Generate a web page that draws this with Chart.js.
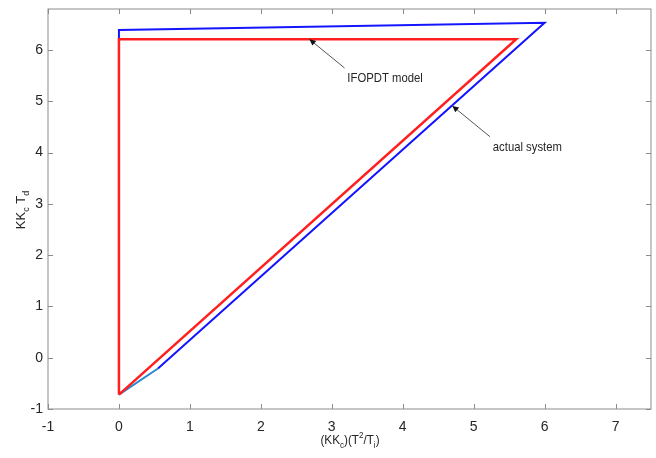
<!DOCTYPE html>
<html>
<head>
<meta charset="utf-8">
<script src="https://cdn.jsdelivr.net/npm/chart.js@4.4.0/dist/chart.umd.min.js"></script>
<style>
  body { margin: 0; background: #fff; }
  #wrap { width: 656px; height: 458px; position: relative; }
</style>
</head>
<body>
<div id="wrap"><canvas id="myChart"></canvas></div>
<script>
// polygon corners of the two curves (x, y)
const modelX = [0, 5.6, 0, 0];
const modelY = [-0.72, 6.21, 6.21, -0.72];
const actualX = [0.55, 6.0, 0, 0];
const actualY = [-0.21, 6.53, 6.39, 6.21];
const startX = [0, 0.55];
const startY = [-0.72, -0.21];

const xTicks = [-1, 0, 1, 2, 3, 4, 5, 6, 7];
const yTicks = [-1, 0, 1, 2, 3, 4, 5, 6];

// annotation arrows: head, tail, text anchor
const notes = [
  { text: 'IFOPDT model', head: [2.685, 6.21], tail: [3.18, 5.65], at: [3.22, 5.45] },
  { text: 'actual system', head: [4.70, 4.91], tail: [5.23, 4.31], at: [5.27, 4.11] }
];

const pts = (xs, ys) => xs.map((x, i) => ({ x: x, y: ys[i] }));

const FONT = '"Liberation Sans", Arial, sans-serif';
const INK = '#262626';

// text with sub/superscripts, drawn centred on (0,0)
function richText(ctx, parts, size) {
  let w = 0;
  parts.forEach(p => {
    ctx.font = (p.s ? size - 4 : size) + 'px ' + FONT;
    p.w = ctx.measureText(p.t).width;
    w += p.w;
  });
  let x = -w / 2;
  parts.forEach(p => {
    ctx.font = (p.s ? size - 4 : size) + 'px ' + FONT;
    const dy = p.s === 'sub' ? 4 : p.s === 'sup' ? -6 : 0;
    ctx.fillText(p.t, x, dy);
    x += p.w;
  });
}

const decor = {
  id: 'decor',
  afterDraw(chart) {
    const ctx = chart.ctx;
    const a = chart.chartArea;
    const xs = chart.scales.x, ys = chart.scales.y;
    ctx.save();

    // box and inward ticks
    ctx.strokeStyle = '#8c8c8c';
    ctx.lineWidth = 1;
    ctx.strokeRect(a.left, a.top, a.right - a.left, a.bottom - a.top);
    ctx.beginPath();
    xTicks.forEach(v => {
      const px = Math.round(xs.getPixelForValue(v)) + 0.5;
      ctx.moveTo(px, a.bottom); ctx.lineTo(px, a.bottom - 5);
      ctx.moveTo(px, a.top); ctx.lineTo(px, a.top + 5);
    });
    yTicks.forEach(v => {
      const py = Math.round(ys.getPixelForValue(v)) + 0.5;
      ctx.moveTo(a.left, py); ctx.lineTo(a.left + 5, py);
      ctx.moveTo(a.right, py); ctx.lineTo(a.right - 5, py);
    });
    ctx.stroke();

    // arrows and their labels
    notes.forEach(n => {
      const hx = xs.getPixelForValue(n.head[0]), hy = ys.getPixelForValue(n.head[1]);
      const tx = xs.getPixelForValue(n.tail[0]), ty = ys.getPixelForValue(n.tail[1]);
      ctx.strokeStyle = '#555';
      ctx.lineWidth = 1;
      ctx.beginPath();
      ctx.moveTo(tx, ty); ctx.lineTo(hx, hy);
      ctx.stroke();
      const ang = Math.atan2(hy - ty, hx - tx);
      ctx.fillStyle = '#111';
      ctx.beginPath();
      ctx.moveTo(hx, hy);
      ctx.lineTo(hx - 7 * Math.cos(ang - 0.45), hy - 7 * Math.sin(ang - 0.45));
      ctx.lineTo(hx - 7 * Math.cos(ang + 0.45), hy - 7 * Math.sin(ang + 0.45));
      ctx.closePath();
      ctx.fill();
      // narrow-looking label: squeeze horizontally
      ctx.save();
      ctx.translate(xs.getPixelForValue(n.at[0]), ys.getPixelForValue(n.at[1]));
      ctx.scale(0.87, 1);
      ctx.fillStyle = INK;
      ctx.font = '13px ' + FONT;
      ctx.textAlign = 'left';
      ctx.textBaseline = 'middle';
      ctx.fillText(n.text, 0, 0);
      ctx.restore();
    });

    // axis titles
    ctx.fillStyle = INK;
    ctx.textAlign = 'left';
    ctx.textBaseline = 'alphabetic';
    ctx.save();
    ctx.translate(350, 444);
    ctx.scale(0.9, 1);
    richText(ctx, [
      { t: '(KK' }, { t: 'c', s: 'sub' }, { t: ')(T' }, { t: '2', s: 'sup' },
      { t: '/T' }, { t: 'i', s: 'sub' }, { t: ')' }
    ], 13);
    ctx.restore();
    ctx.save();
    ctx.translate(25, 210);
    ctx.rotate(-Math.PI / 2);
    richText(ctx, [
      { t: 'KK' }, { t: 'c', s: 'sub' }, { t: ' T' }, { t: 'd', s: 'sub' }
    ], 13);
    ctx.restore();

    ctx.restore();
  }
};

const ctx = document.getElementById('myChart').getContext('2d');
let myChart = new Chart(ctx, {
  type: 'scatter',
  data: {
    datasets: [
      {
        label: 'IFOPDT model',
        data: pts(modelX, modelY),
        borderColor: '#ff1f1f',
        borderWidth: 2.5,
        order: 0
      },
      {
        label: 'actual system',
        data: pts(actualX, actualY),
        borderColor: '#1414ff',
        borderWidth: 2,
        order: 1
      },
      {
        label: 'start',
        data: pts(startX, startY),
        borderColor: '#2a88d0',
        borderWidth: 2,
        order: 2
      }
    ]
  },
  options: {
    responsive: true,
    maintainAspectRatio: false,
    animation: false,
    showLine: true,
    elements: { point: { radius: 0, hoverRadius: 0 }, line: { tension: 0 } },
    layout: { padding: { top: 9, right: 5, left: 0, bottom: 0 } },
    plugins: { legend: { display: false }, tooltip: { enabled: false } },
    scales: {
      x: {
        type: 'linear',
        min: -1,
        max: 7.5,
        afterBuildTicks: s => { s.ticks = xTicks.map(v => ({ value: v })); },
        afterFit: s => { s.height = 49; s.paddingLeft = 0; s.paddingRight = 0; },
        grid: { display: false, drawTicks: false },
        border: { display: false },
        ticks: { padding: 10, color: INK, font: { family: FONT, size: 14 }, maxRotation: 0 }
      },
      y: {
        type: 'linear',
        min: -1,
        max: 6.8,
        afterBuildTicks: s => { s.ticks = yTicks.map(v => ({ value: v })); },
        afterFit: s => { s.width = 48; s.paddingTop = 0; s.paddingBottom = 0; },
        grid: { display: false, drawTicks: false },
        border: { display: false },
        ticks: { padding: 5, color: INK, font: { family: FONT, size: 14 } }
      }
    }
  },
  plugins: [decor]
});
</script>
</body>
</html>
